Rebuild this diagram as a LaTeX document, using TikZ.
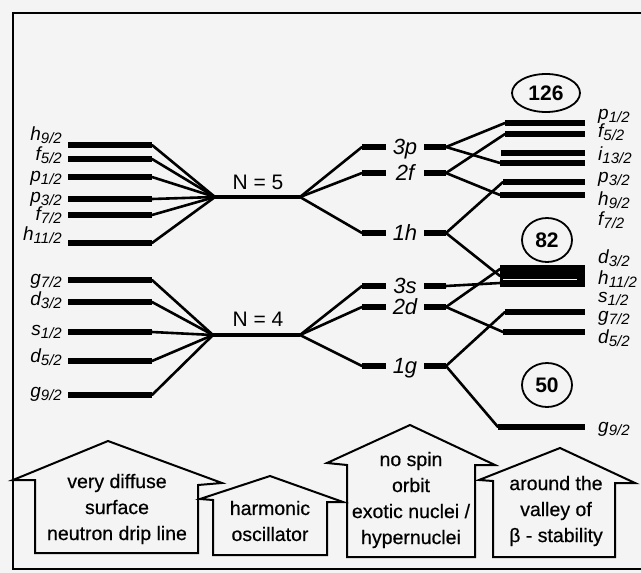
\documentclass[tikz,border=0pt]{standalone}
\usepackage{fontspec}
\setmainfont{Liberation Sans}
\newfontfamily\hfont{Liberation Sans}[FakeBold=0.5]
\usetikzlibrary{shapes.geometric}
\definecolor{bgc}{RGB}{244,244,244}
\newcommand\lv[2]{#1\raisebox{-3.5pt}{\fontsize{15}{15}\selectfont #2}}
\begin{document}
\begin{tikzpicture}[x=1pt,y=-1pt,
  bar/.style={line width=6.5pt},
  wbar/.style={line width=8pt},
  conn/.style={line width=2.6pt,line join=round,line cap=round},
  lvl/.style={font=\fontsize{19}{19}\selectfont\itshape,inner sep=0pt},
  mid/.style={font=\fontsize{22}{22}\selectfont\itshape,inner sep=0pt,anchor=base},
  nlab/.style={font=\fontsize{21}{21}\selectfont,inner sep=0pt,anchor=base},
  magic/.style={draw,ellipse,line width=1.8pt,inner sep=0pt,font=\fontsize{21}{21}\selectfont\bfseries},
  house/.style={line width=2pt,line join=miter},
  htxt/.style={align=center,inner sep=0pt,font=\hfont\fontsize{19.5}{26}\selectfont}]
\useasboundingbox (0,0) rectangle (641,573);
\fill[bgc] (0,0) rectangle (641,573);
% frame
\draw[line width=1.8pt] (641,13) -- (13,13) -- (13,569) -- (641,569);

% left levels
\foreach \n/\l/\a/\y/\b in {lh9/h/9/145/140,lf5/f/5/159/160,lp1/p/1/177/181,lp3/p/3/199/202,lf7/f/7/215/220,lh11/h/11/243/240,lg7/g/7/280/284,ld3/d/3/302/305,ls1/s/1/332/335,ld5/d/5/361/362,lg9/g/9/395/397}{
  \coordinate (\n-a) at (68,\y);
  \coordinate (\n-b) at (152,\y);
  \draw[bar] (\n-a) -- (\n-b);
  \node[lvl,anchor=base east] (\n-t) at (62,\b) {\lv{\l}{\a/2}};
}
% N shells
\coordinate (n5-a) at (215,197); \coordinate (n5-b) at (300,197);
\coordinate (n4-a) at (213,335); \coordinate (n4-b) at (300,335);
\draw[line width=4.5pt] (n5-a) -- (n5-b);
\draw[line width=4.5pt] (n4-a) -- (n4-b);
\node[nlab] (n5t) at (258,189) {N = 5};
\node[nlab] (n4t) at (258,326) {N = 4};
\foreach \n in {lh9,lf5,lp1,lp3,lf7,lh11}{\draw[conn] (\n-b) -- (n5-a);}
\foreach \n in {lg7,ld3,ls1,ld5,lg9}{\draw[conn] (\n-b) -- (n4-a);}

% middle levels
\foreach \n/\t/\y in {m3p/3p/147,m2f/2f/173,m1h/1h/233,m3s/3s/286,m2d/2d/307,m1g/1g/366}{
  \coordinate (\n-a) at (362,\y);
  \coordinate (\n-b) at (386,\y);
  \coordinate (\n-c) at (424,\y);
  \coordinate (\n-d) at (446,\y);
  \draw[bar] (\n-a) -- (\n-b);
  \draw[bar] (\n-c) -- (\n-d);
  \node[mid] (\n-t) at (405,\y+7) {\t};
}
\foreach \n in {m3p,m2f,m1h}{\draw[conn] (n5-b) -- (\n-a);}
\foreach \n in {m3s,m2d,m1g}{\draw[conn] (n4-b) -- (\n-a);}

% right levels
\foreach \n/\l/\a/\y/\x/\b in {rp1/p/1/123/505/119,rf5/f/5/134/505/137,ri13/i/13/153/501/160,rp3/p/3/163/500/182,rh9/h/9/182/503/205,rf7/f/7/195/500/225,rg7/g/7/312/505/321,rd5/d/5/332/503/343,rg9/g/9/427/498/432}{
  \coordinate (\n-a) at (\x,\y);
  \coordinate (\n-b) at (585,\y);
  \draw[bar] (\n-a) -- (\n-b);
  \node[lvl,anchor=base west] (\n-t) at (598,\b) {\lv{\l}{\a/2}};
}
% the merged block below 82
\foreach \n/\l/\a/\y/\b in {rd3/d/3/269/263,rh11/h/11/276/284,rs1/s/1/283/302}{
  \coordinate (\n-a) at (500,\y);
  \coordinate (\n-b) at (585,\y);
  \draw[wbar] (\n-a) -- (\n-b);
  \node[lvl,anchor=base west] (\n-t) at (598,\b) {\lv{\l}{\a/2}};
}
\draw[bgc!60!white,line width=0.8pt] (503,279) -- (577,279);
\draw[conn] (m3p-d) -- (rp1-a);
\draw[conn] (m3p-d) -- (rp3-a);
\draw[conn] (m2f-d) -- (rf5-a);
\draw[conn] (m2f-d) -- (rf7-a);
\draw[conn] (m1h-d) -- (rh9-a);
\draw[conn] (m1h-d) -- (rh11-a);
\draw[conn] (m3s-d) -- (rs1-a);
\draw[conn] (m2d-d) -- (rd3-a);
\draw[conn] (m2d-d) -- (rd5-a);
\draw[conn] (m1g-d) -- (rg7-a);
\draw[conn] (m1g-d) -- (rg9-a);

% magic numbers
\node[magic,minimum width=68pt,minimum height=38pt] (c126) at (546,93) {126};
\node[magic,minimum width=50pt,minimum height=44pt] (c82) at (547,240) {82};
\node[magic,minimum width=50pt,minimum height=44pt] (c50) at (547,385) {50};

% houses
\draw[house] (35,553) -- (35,480) -- (13,480) -- (108,441) -- (222,483) -- (198,485) -- (198,553) -- cycle;
\draw[house] (213,555) -- (213,500) -- (200,499) -- (270,476) -- (343,502) -- (327,502) -- (327,555) -- cycle;
\draw[house] (347,557) -- (347,465) -- (327,463) -- (410,425) -- (495,465) -- (475,465) -- (475,557) -- cycle;
\draw[house] (493,557) -- (493,481) -- (479,480) -- (560,448) -- (635,483) -- (615,483) -- (615,557) -- cycle;
\node[htxt] (h1) at (117,509) {very diffuse\\surface\\neutron drip line};
\node[htxt] (h2) at (270,521) {harmonic\\oscillator};
\node[htxt] (h3) at (411,500) {no spin\\orbit\\exotic nuclei /\\hypernuclei};
\node[htxt] (h4) at (556,511) {around the\\valley of\\β - stability};
\end{tikzpicture}
\end{document}
